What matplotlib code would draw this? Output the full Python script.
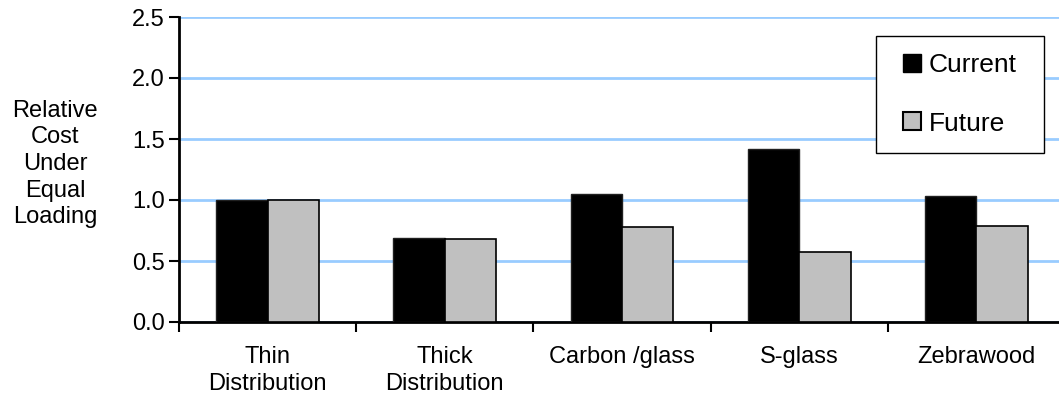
import numpy as np
import matplotlib
matplotlib.use("Agg")
import matplotlib.pyplot as plt
from matplotlib.patches import Patch, Rectangle

plt.rcParams['font.family'] = ['Liberation Sans', 'DejaVu Sans']

# Data
materials = ["Thin\nDistribution", "Thick\nDistribution", "Carbon /glass", "S-glass", "Zebrawood"]
current = [1.00, 0.69, 1.05, 1.42, 1.03]
future = [1.00, 0.68, 0.78, 0.57, 0.79]
yticks = [0.0, 0.5, 1.0, 1.5, 2.0, 2.5]

fig = plt.figure(figsize=(10.59, 3.96), dpi=100)
ax = fig.add_axes([179/1059, 1 - 322/396, 886/1059, 305/396])

x = np.arange(len(materials))
w = 0.29
ax.bar(x - w/2, current, w, color="black", edgecolor="#202020", linewidth=1.0, label="Current", zorder=3)
ax.bar(x + w/2, future, w, color="#c0c0c0", edgecolor="black", linewidth=1.2, label="Future", zorder=3)

ax.set_xlim(-0.5, len(materials) - 0.5)
ax.set_ylim(0, 2.5)
ax.set_yticks(yticks)
ax.set_yticklabels([f"{v:.1f}" for v in yticks], fontsize=17)
ax.yaxis.grid(True, color="#99ccff", linewidth=2.0, zorder=0)
ax.set_axisbelow(True)

# category labels between boundary ticks
ax.set_xticks(np.arange(len(materials) + 1) - 0.5)
ax.set_xticklabels([])
ax.set_xticks(x, minor=True)
ax.set_xticklabels(materials, minor=True, fontsize=17, linespacing=1.3)
ax.tick_params(axis="x", which="minor", length=0, pad=17)
ax.tick_params(axis="x", which="major", length=7, width=1.5, direction="out")
ax.tick_params(axis="y", length=7, width=1.5, direction="out", pad=3)

for side in ["top", "right"]:
    ax.spines[side].set_visible(False)
for side in ["left", "bottom"]:
    ax.spines[side].set_linewidth(2.0)

fig.text(55/1059, 1 - 164/396, "Relative\nCost\nUnder\nEqual\nLoading",
         ha="center", va="center", fontsize=17, linespacing=1.27)

# legend box: white frame drawn separately, entries centred inside it
lx0, ly0, lw, lh = 0.787, 0.554, 0.189, 0.384
ax.add_patch(Rectangle((lx0, ly0), lw, lh, transform=ax.transAxes, facecolor="white",
                       edgecolor="black", linewidth=1.0, zorder=5, clip_on=False))
handles = [Patch(facecolor="black", edgecolor="black", label="Current"),
           Patch(facecolor="#c0c0c0", edgecolor="black", linewidth=1.5, label="Future")]
leg = ax.legend(handles=handles, loc="center", bbox_to_anchor=(lx0 + lw/2, ly0 + lh/2),
                fontsize=19, frameon=False, labelspacing=1.3, handlelength=0.68,
                handleheight=0.68, handletextpad=0.27, borderaxespad=0, borderpad=0)
leg.set_zorder(6)

fig.savefig("out.png", dpi=100)
